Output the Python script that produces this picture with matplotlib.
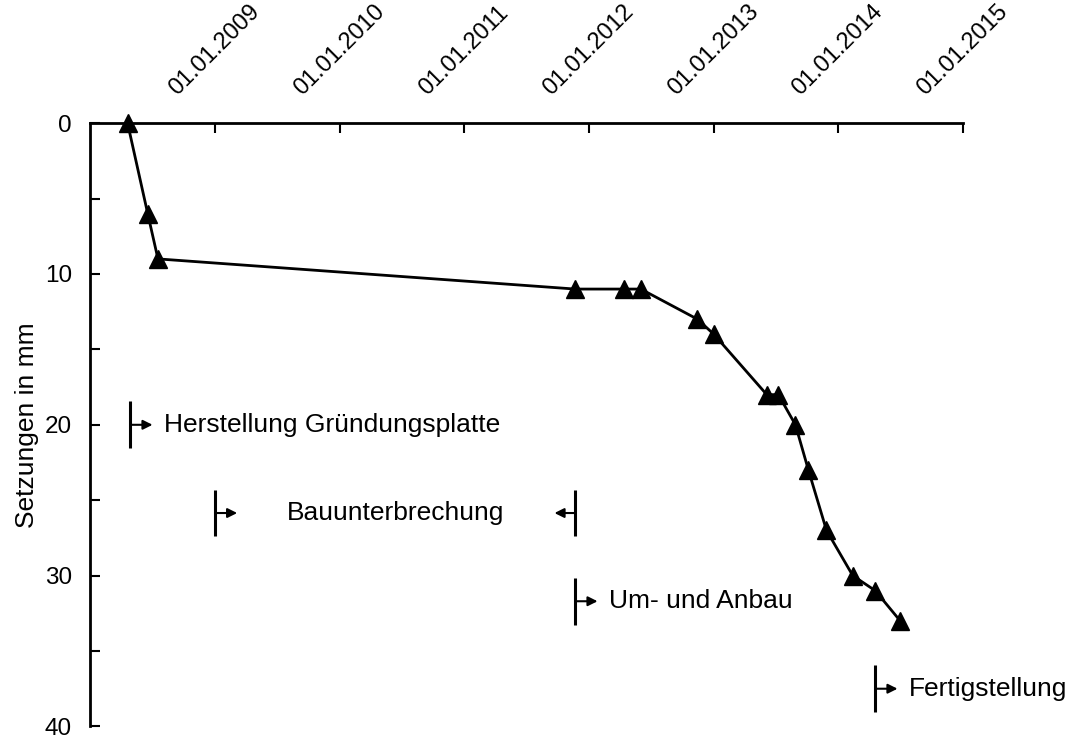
import matplotlib
matplotlib.use("Agg")
import matplotlib.pyplot as plt
import matplotlib.dates as mdates
from matplotlib.transforms import offset_copy
import datetime as dt

plt.rcParams['font.family'] = ['Liberation Sans', 'DejaVu Sans']

# ---- data ----
dates = ["2008-04-20", "2008-06-18", "2008-07-18", "2011-11-23", "2012-04-15",
         "2012-06-02", "2012-11-15", "2013-01-02", "2013-06-06", "2013-07-10",
         "2013-08-29", "2013-10-06", "2013-11-28", "2014-02-13", "2014-04-20",
         "2014-07-02"]
settlement = [0, 6, 9, 11, 11, 11, 13, 14, 18, 18, 20, 23, 27, 30, 31, 33]

tick_years = [2009, 2010, 2011, 2012, 2013, 2014, 2015]
y_ticks = [0, 10, 20, 30, 40]
y_minor = [5, 15, 25, 35]

phase_labels = ["Herstellung Gründungsplatte", "Um- und Anbau", "Fertigstellung"]
phase_dates = ["2008-04-28", "2011-11-23", "2014-04-20"]
phase_levels = [20, 31.7, 37.5]

pause_label = "Bauunterbrechung"
pause_start = "2009-01-01"
pause_end = "2011-11-23"
pause_level = 25.85

bar_half = 1.55

# ---- plot ----
def d(s):
    return mdates.date2num(dt.datetime.strptime(s, "%Y-%m-%d"))

fig = plt.figure(figsize=(10.72, 7.42), dpi=100)
ax = fig.add_axes([0.084, 0.021, 0.814, 0.813])

xs = [d(s) for s in dates]
ax.plot(xs, settlement, color='black', lw=2, marker='^', ms=13,
        markerfacecolor='black', markeredgecolor='black', clip_on=False, zorder=5)

ax.set_xlim(d("2008-01-01"), d("2015-01-01"))
ax.set_ylim(40, 0)

ax.xaxis.tick_top()
ax.set_xticks([d(f"{y}-01-01") for y in tick_years])
ax.set_xticklabels([f"01.01.{y}" for y in tick_years])
ax.tick_params(axis='x', direction='in', length=7, width=1.5, labelsize=17,
               pad=17, labelrotation=45, top=True, bottom=False)

ax.set_yticks(y_ticks)
ax.set_yticks(y_minor, minor=True)
ax.tick_params(axis='y', which='both', direction='in', length=7, width=1.5,
               labelsize=17.5, pad=13)
ax.set_ylabel("Setzungen in mm", fontsize=19, labelpad=4)

for s in ['right', 'bottom']:
    ax.spines[s].set_visible(False)
for s in ['left', 'top']:
    ax.spines[s].set_linewidth(2)

arrow_kw = dict(arrowstyle='-|>', color='black', lw=1.5, mutation_scale=14,
                shrinkA=0, shrinkB=0)
tr_right = offset_copy(ax.transData, fig=fig, x=16, y=0, units='points')
tr_left = offset_copy(ax.transData, fig=fig, x=-15, y=0, units='points')
tr_text = offset_copy(ax.transData, fig=fig, x=24, y=0, units='points')

def bar(x, y):
    ax.plot([x, x], [y - bar_half, y + bar_half], color='black', lw=2.2,
            solid_capstyle='butt')

for lab, ds, yv in zip(phase_labels, phase_dates, phase_levels):
    x = d(ds)
    bar(x, yv)
    ax.annotate("", xy=(x, yv), xycoords=tr_right, xytext=(x, yv),
                textcoords=ax.transData, arrowprops=arrow_kw)
    ax.text(x, yv, lab, transform=tr_text, fontsize=19, va='center', ha='left')

x0, x1 = d(pause_start), d(pause_end)
bar(x0, pause_level)
bar(x1, pause_level)
ax.annotate("", xy=(x0, pause_level), xycoords=tr_right, xytext=(x0, pause_level),
            textcoords=ax.transData, arrowprops=arrow_kw)
ax.annotate("", xy=(x1, pause_level), xycoords=tr_left, xytext=(x1, pause_level),
            textcoords=ax.transData, arrowprops=arrow_kw)
ax.text(x0 + (x1 - x0) / 2, pause_level, pause_label, fontsize=19,
        va='center', ha='center')

fig.savefig("out.png", dpi=100)
